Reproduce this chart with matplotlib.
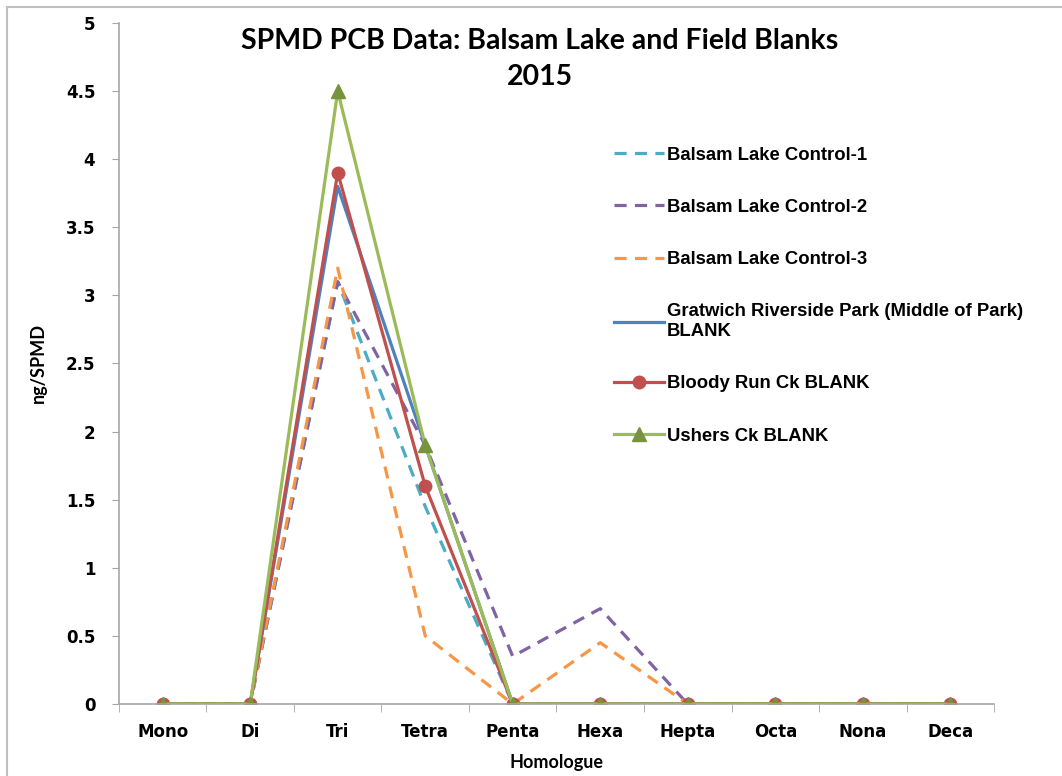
import matplotlib.pyplot as plt
from matplotlib.patches import Rectangle

# Homologue categories
homologues = ["Mono", "Di", "Tri", "Tetra", "Penta", "Hexa", "Hepta", "Octa", "Nona", "Deca"]

# ng/SPMD values
control_1 = [0, 0, 3.1, 1.45, 0, 0, 0, 0, 0, 0]
control_2 = [0, 0, 3.1, 1.9, 0.35, 0.7, 0, 0, 0, 0]
control_3 = [0, 0, 3.2, 0.5, 0, 0.45, 0, 0, 0, 0]
gratwich = [0, 0, 3.8, 1.9, 0, 0, 0, 0, 0, 0]
bloody_run = [0, 0, 3.9, 1.6, 0, 0, 0, 0, 0, 0]
ushers = [0, 0, 4.5, 1.9, 0, 0, 0, 0, 0, 0]

fig = plt.figure(figsize=(10.62, 7.76), dpi=100)
ax = fig.add_axes([0.112, 0.0928, 0.824, 0.8776])

x = list(range(len(homologues)))
dash = (0, (3.8, 2.6))
lw = 2.3

ax.plot(x, control_1, color="#4BACC6", lw=lw, linestyle=dash, label="Balsam Lake Control-1")
ax.plot(x, control_2, color="#8064A2", lw=lw, linestyle=dash, label="Balsam Lake Control-2")
ax.plot(x, control_3, color="#F79646", lw=lw, linestyle=dash, label="Balsam Lake Control-3")
ax.plot(x, gratwich, color="#4F81BD", lw=lw, label="Gratwich Riverside Park (Middle of Park)\nBLANK")
ax.plot(x, bloody_run, color="#C0504D", lw=lw, marker="o", markersize=9,
        label="Bloody Run Ck BLANK")
ax.plot(x, ushers, color="#9BBB59", lw=lw, marker="^", markersize=10,
        markeredgecolor="#77933C", markerfacecolor="#77933C", label="Ushers Ck BLANK")

ax.set_xlim(-0.5, len(homologues) - 0.5)
ax.set_ylim(0, 5)
ax.set_yticks([i * 0.5 for i in range(11)])
ax.set_yticklabels(["0", "0.5", "1", "1.5", "2", "2.5", "3", "3.5", "4", "4.5", "5"],
                   fontsize=12, fontweight="bold", family="DejaVu Sans")
ax.set_xticks(x)
ax.set_xticklabels(homologues, fontsize=12, fontweight="bold", family="DejaVu Sans")
ax.set_xticks([i - 0.5 for i in range(len(homologues) + 1)], minor=True)
ax.tick_params(axis="x", which="major", length=0, pad=14)
ax.tick_params(axis="x", which="minor", length=6, color="#A6A6A6", direction="out")
ax.tick_params(axis="y", length=5, color="#A6A6A6", direction="out", pad=12)

for s in ["top", "right"]:
    ax.spines[s].set_visible(False)
for s in ["left", "bottom"]:
    ax.spines[s].set_color("#A6A6A6")
    ax.spines[s].set_linewidth(1.2)

ax.set_ylabel("ng/SPMD", fontsize=13, fontweight="bold", family="Lato", labelpad=14)
ax.set_xlabel("Homologue", fontsize=13, fontweight="bold", family="Lato", labelpad=9)

fig.text(0.508, 0.964, "SPMD PCB Data: Balsam Lake and Field Blanks\n2015",
         ha="center", va="top", fontsize=20.5, fontweight="bold", family="Lato",
         linespacing=1.5)

leg = ax.legend(loc="upper left", bbox_to_anchor=(0.547, 0.843), frameon=False,
                prop={"family": "Liberation Sans", "weight": "bold", "size": 13.3},
                handlelength=2.7, labelspacing=1.91, handletextpad=0.15)

# chart-area border
fig.add_artist(Rectangle((7 / 1062, -0.1), 1.2, 1 - 7 / 776 + 0.1,
                         transform=fig.transFigure, fill=False,
                         edgecolor="#BFBFBF", lw=1.5))

fig.savefig("out.png", dpi=100)
